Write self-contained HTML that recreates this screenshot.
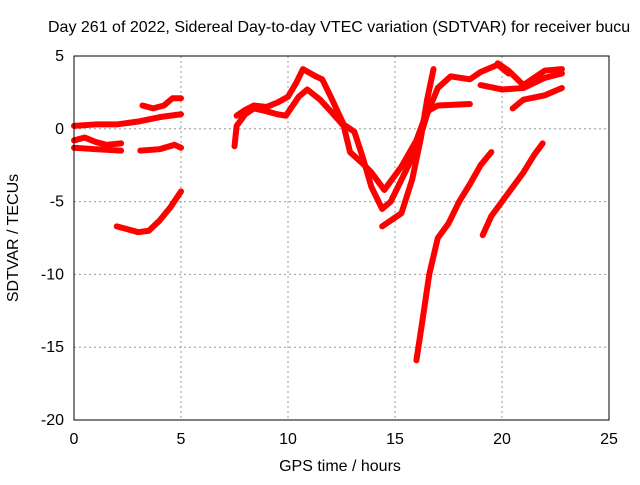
<!DOCTYPE html>
<html><head><meta charset="utf-8"><style>
body{margin:0;background:#fff}
svg text{font-family:"Liberation Sans",sans-serif;font-size:16px;fill:#000}
</style></head><body>
<svg id="c" width="640" height="480" xmlns="http://www.w3.org/2000/svg">
<text x="48" y="32">Day 261 of 2022, Sidereal Day-to-day VTEC variation (SDTVAR) for receiver bucu</text>
<text x="340" y="471" text-anchor="middle">GPS time / hours</text>
<text transform="translate(18,238) rotate(-90)" text-anchor="middle">SDTVAR / TECUs</text>
<g id="grid"></g><g id="ticks"></g><g id="series"></g>
<rect x="74" y="56" width="535" height="364" fill="none" stroke="#000"/>
</svg>
<script>
const xTicks=[0,5,10,15,20,25];
const yTicks=[5,0,-5,-10,-15,-20];
const sA=[[0,0.2],[1,0.3],[2,0.3],[3,0.5],[4,0.8],[5,1.0]];
const sB=[[0,-0.8],[0.5,-0.6],[1,-0.9],[1.5,-1.1],[2.2,-1.0]];
const sB2=[[0,-1.3],[1,-1.4],[2.2,-1.5]];
const sC=[[3.1,-1.5],[4,-1.4],[4.7,-1.1],[5,-1.3]];
const sD=[[2,-6.7],[2.5,-6.9],[3,-7.1],[3.5,-7],[4,-6.3],[4.5,-5.4],[5,-4.3]];
const sE=[[3.2,1.6],[3.7,1.4],[4.2,1.6],[4.6,2.1],[5,2.1]];
const sF=[[7.5,-1.2],[7.6,0.2],[8,1.0],[8.4,1.4],[9,1.2],[9.5,1.0],[9.9,0.9],[10.5,2.2],[10.9,2.7],[11.5,2.0],[12,1.2],[12.6,0.2],[12.9,-1.6],[13.5,-2.4],[13.9,-3.0],[14.5,-4.2],[15.3,-2.6],[16,-0.8],[16.5,1.2],[17,1.6],[18.5,1.7]];
const sG=[[7.6,0.9],[8,1.3],[8.4,1.6],[9,1.5],[9.5,1.8],[10,2.2],[10.4,3.2],[10.7,4.1],[11.3,3.6],[11.6,3.4],[12,2.2],[12.6,0.3],[13.1,-0.2],[13.5,-2],[13.9,-4],[14.4,-5.5],[14.8,-5.0],[15.3,-3.5],[16,-1.4],[16.5,1.0],[17,2.8],[17.6,3.6],[18.5,3.4],[19,3.9],[19.8,4.4],[20.3,3.8]];
const sH=[[14.4,-6.7],[15.3,-5.8],[15.8,-3.5],[16.2,-0.7],[16.5,2.0],[16.8,4.1]];
const sI=[[16,-15.9],[16.3,-13],[16.6,-10],[17,-7.5],[17.5,-6.5],[18,-5],[18.5,-3.8],[19,-2.5],[19.5,-1.6]];
const sJ=[[19.1,-7.3],[19.5,-6],[20,-5],[20.5,-4],[21,-3],[21.5,-1.8],[21.9,-1]];
const sK=[[19,3],[20,2.7],[21,2.8],[22,3.5],[22.8,3.8]];
const sL=[[20.5,1.4],[21,2],[22,2.3],[22.8,2.8]];
const sM=[[19.8,4.5],[20.3,4.0],[21,3],[22,4],[22.8,4.1]];
const seriesList=[sA,sB,sB2,sC,sD,sE,sF,sG,sH,sI,sJ,sK,sL,sM];
const X=v=>74+(v-0)*(535/25), Y=v=>56+(5-v)*(364/25);
const NS="http://www.w3.org/2000/svg";
const g=document.getElementById('grid'),t=document.getElementById('ticks'),s=document.getElementById('series');
function mk(tag,at,p){const e=document.createElementNS(NS,tag);for(const k in at)e.setAttribute(k,at[k]);p.appendChild(e);return e;}
xTicks.forEach(v=>{
 if(v>0&&v<25){const l=mk('line',{x1:X(v),x2:X(v),y1:56,y2:420,stroke:'#999','stroke-dasharray':'2,3'},g);
 
 }
 const tx=mk('text',{x:X(v),y:444,'text-anchor':'middle'},t);tx.textContent=v;
 
 
});
yTicks.forEach(v=>{
 if(v<5&&v>-20){const l=mk('line',{x1:74,x2:609,y1:Y(v),y2:Y(v),stroke:'#999','stroke-dasharray':'2,3'},g);
 
 }
 const tx=mk('text',{x:64,y:Y(v)+5,'text-anchor':'end'},t);tx.textContent=v;
 
 
});
seriesList.forEach(d=>{
 const p=mk('polyline',{points:d.map(q=>X(q[0])+','+Y(q[1])).join(' '),fill:'none',stroke:'#f00','stroke-width':6,'stroke-linejoin':'round','stroke-linecap':'round'},s);
 
 
});
</script>
</body></html>
